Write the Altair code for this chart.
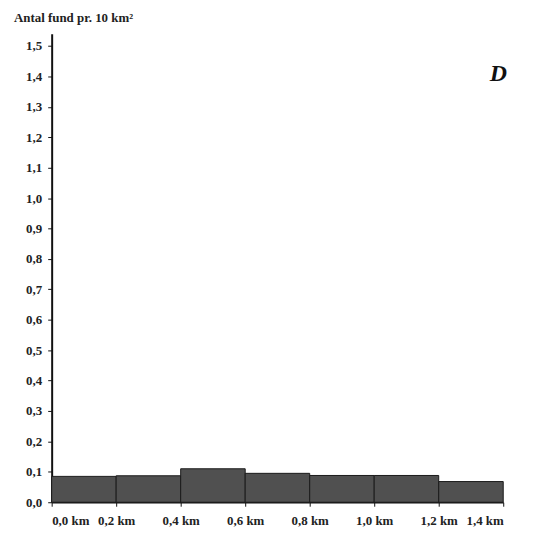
import altair as alt
import pandas as pd

bin_start = [0.0, 0.2, 0.4, 0.6, 0.8, 1.0, 1.2]
bin_end = [0.2, 0.4, 0.6, 0.8, 1.0, 1.2, 1.4]
values = [0.085, 0.087, 0.11, 0.095, 0.088, 0.088, 0.068]
x_ticks = [0.0, 0.2, 0.4, 0.6, 0.8, 1.0, 1.2, 1.4]
y_ticks = [round(i * 0.1, 1) for i in range(16)]

df = pd.DataFrame({"start": bin_start, "end": bin_end, "value": values})

FONT = "Liberation Serif"

bars = alt.Chart(df).mark_rect(
    color="#505050", stroke="#1a1a1a", strokeWidth=1
).encode(
    x=alt.X("start:Q",
            scale=alt.Scale(domain=[0, 1.4], nice=False, zero=True),
            axis=alt.Axis(values=x_ticks, title=None,
                          labelExpr="replace(format(datum.value, '.1f'), '.', ',') + ' km'",
                          labelFont=FONT, labelFontSize=13, labelFontWeight="bold",
                          labelColor="#222222", labelPadding=8,
                          domainColor="#111111", domainWidth=1.5,
                          tickColor="#111111", tickSize=4, grid=False)),
    x2="end:Q",
    y=alt.Y("value:Q",
            scale=alt.Scale(domain=[0, 1.54], nice=False),
            axis=alt.Axis(values=y_ticks, title=None,
                          labelExpr="replace(format(datum.value, '.1f'), '.', ',')",
                          labelFont=FONT, labelFontSize=13, labelFontWeight="bold",
                          labelColor="#222222", labelPadding=6,
                          domainColor="#111111", domainWidth=2,
                          tickColor="#111111", tickSize=4, grid=False)),
)

title = alt.Chart(pd.DataFrame({"t": ["Antal fund pr. 10 km²"]})).mark_text(
    align="left", baseline="middle", font=FONT, fontSize=13, fontWeight="bold",
    color="#222222"
).encode(x=alt.value(-38), y=alt.value(-16), text="t:N")

label = alt.Chart(pd.DataFrame({"t": ["D"]})).mark_text(
    align="center", baseline="middle", font=FONT, fontSize=24, fontStyle="italic",
    fontWeight="bold", color="#111111"
).encode(x=alt.value(450), y=alt.value(41), text="t:N")

chart = alt.layer(bars, title, label).properties(
    width=455, height=472,
    background="white",
    autosize=alt.AutoSizeParams(type="none"),
    padding={"left": 44, "top": 24, "right": 30, "bottom": 30},
).configure_view(strokeWidth=0, stroke=None)

chart.save("out.html", embed_options={"renderer": "svg", "actions": False})
